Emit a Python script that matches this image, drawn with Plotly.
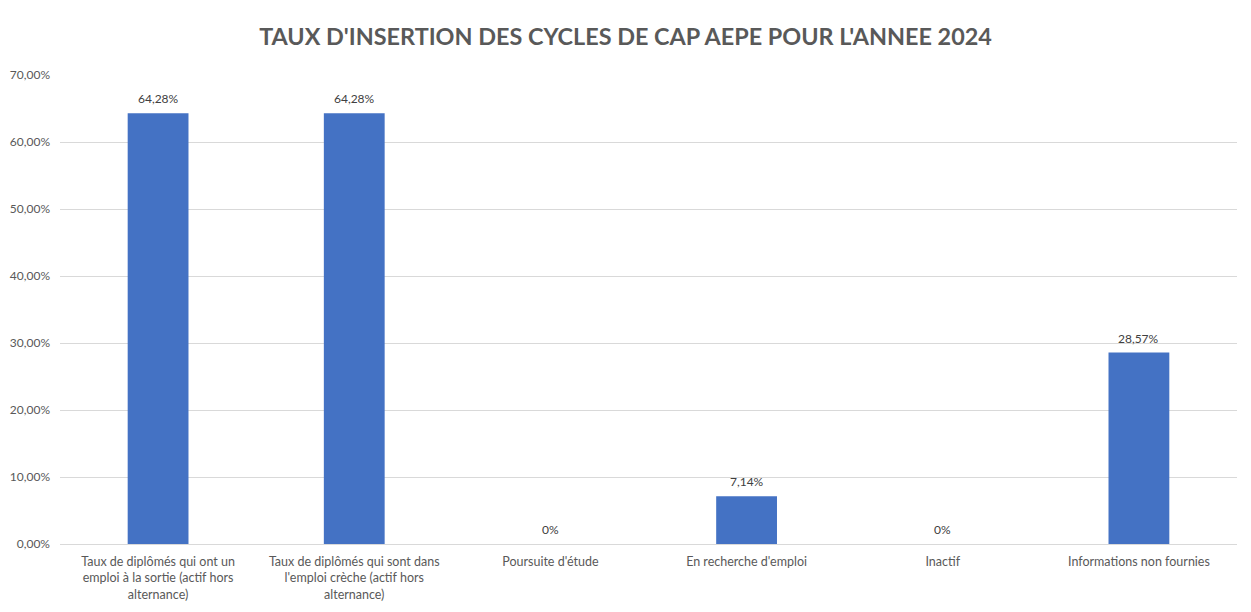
import plotly.graph_objects as go

categories = [
    "Taux de diplômés qui ont un<br>emploi à la sortie (actif hors<br>alternance)",
    "Taux de diplômés qui sont dans<br>l'emploi crèche (actif hors<br>alternance)",
    "Poursuite d'étude",
    "En recherche d'emploi",
    "Inactif",
    "Informations non fournies",
]
values = [64.28, 64.28, 0, 7.14, 0, 28.57]
tick_values = [0, 10, 20, 30, 40, 50, 60, 70]
tick_labels = ["0,00%", "10,00%", "20,00%", "30,00%", "40,00%", "50,00%", "60,00%", "70,00%"]
title = "TAUX D'INSERTION DES CYCLES DE CAP AEPE POUR L'ANNEE 2024"

labels = ["0%" if v == 0 else f"{v:.2f}".replace(".", ",") + "%" for v in values]

FONT = "Lato"
GRAY = "#595959"
W, H = 1235, 596

fig = go.Figure(go.Bar(
    x=categories,
    y=values,
    marker_color="#4472C4",
    marker_line_width=0,
    cliponaxis=False,
))

for c, v, t in zip(categories, values, labels):
    fig.add_annotation(x=c, y=v, text=t, showarrow=False, yanchor="bottom", yshift=5,
                       font=dict(family=FONT, size=12, color="#404040"))

fig.update_layout(
    width=W, height=H,
    paper_bgcolor="white", plot_bgcolor="white",
    margin=dict(l=52, r=6, t=67, b=60, autoexpand=False),
    bargap=0.69,
    title=dict(text=f"<b>{title}</b>", x=0.5, xanchor="center", y=1 - 29 / H, yref="container",
               yanchor="middle", font=dict(family=FONT, size=23.4, color=GRAY)),
    showlegend=False,
    font=dict(family=FONT, size=12, color=GRAY),
)
fig.update_yaxes(range=[0, 70], tickvals=tick_values, ticktext=tick_labels,
                 gridcolor="#D9D9D9", gridwidth=1, zeroline=False, showline=False,
                 automargin=False, ticklabelstandoff=9,
                 tickfont=dict(family=FONT, size=12, color=GRAY), ticks="", ticklen=0)
fig.update_xaxes(showline=True, linecolor="#D9D9D9", linewidth=1, ticks="",
                 automargin=False, ticklabelstandoff=6,
                 tickfont=dict(family=FONT, size=12.5, color=GRAY))

fig.write_html("out.html")
